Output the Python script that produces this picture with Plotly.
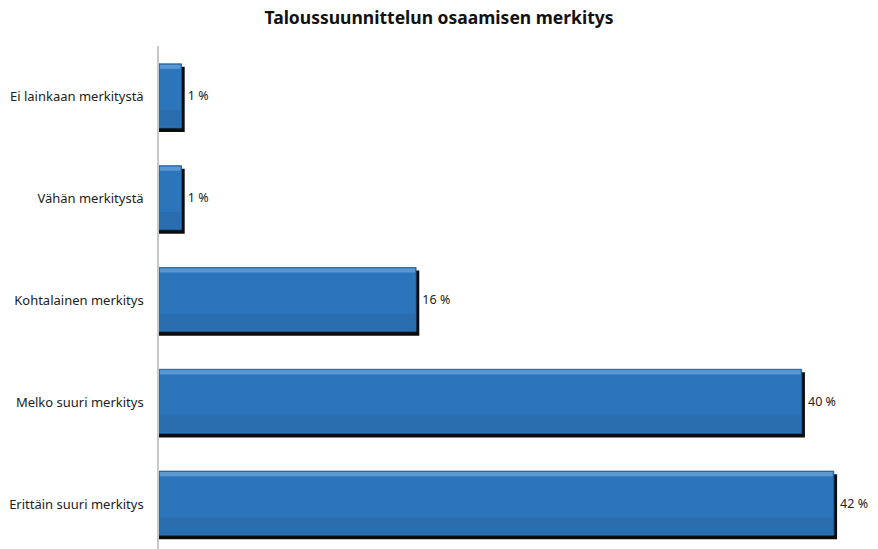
import plotly.graph_objects as go

title = "Taloussuunnittelun osaamisen merkitys"
categories = ["Ei lainkaan merkitystä", "Vähän merkitystä", "Kohtalainen merkitys",
              "Melko suuri merkitys", "Erittäin suuri merkitys"]
values = [1.4, 1.4, 16, 40, 42]
labels = ["1 %", "1 %", "16 %", "40 %", "42 %"]

fig = go.Figure()
# shadow
fig.add_trace(go.Bar(
    y=categories, x=[v + 0.2 for v in values], orientation="h",
    width=0.64, offset=-0.295, marker=dict(color="#0d0d0d", line=dict(width=0)),
    hoverinfo="skip", showlegend=False))
# main bar
fig.add_trace(go.Bar(
    y=categories, x=values, orientation="h",
    width=0.63, offset=-0.325,
    marker=dict(color="#2c75bb", line=dict(color="#1f5a92", width=0.8)),
    text=labels, texttemplate=" %{text}", textposition="outside", cliponaxis=False,
    textfont=dict(family="Noto Sans", size=12.5, color="#222222"),
    showlegend=False))
# highlight
fig.add_trace(go.Bar(
    y=categories, x=[v - 0.12 for v in values], orientation="h",
    width=0.04, offset=-0.315, base=0.05,
    marker=dict(color="#5a98d3", line=dict(width=0)),
    hoverinfo="skip", showlegend=False))
# bottom darker band
fig.add_trace(go.Bar(
    y=categories, x=[v - 0.12 for v in values], orientation="h",
    width=0.16, offset=0.13, base=0.05,
    marker=dict(color="#296daf", line=dict(width=0)),
    hoverinfo="skip", showlegend=False))

fig.update_layout(
    barmode="overlay",
    width=878, height=549,
    margin=dict(l=159, r=12, t=46, b=0, autoexpand=False),
    paper_bgcolor="white", plot_bgcolor="white",
    title=dict(text="<b>" + title + "</b>", x=0.5, xanchor="center",
               yref="container", y=0.967, yanchor="middle",
               font=dict(family="Noto Sans", size=17.5, color="#111111")),
    font=dict(family="Noto Sans", size=13, color="#222222"),
    xaxis=dict(range=[0, 44], visible=False, fixedrange=True, automargin=False),
    yaxis=dict(categoryorder="array", categoryarray=categories, automargin=False,
               range=[4.44, -0.5], showline=True, linecolor="#c8c8c8", linewidth=1.5,
               showgrid=False, zeroline=False, ticks="", ticklabelstandoff=11,
               tickfont=dict(family="Noto Sans", size=13, color="#222222")),
)
fig.write_html("out.html", config={"displayModeBar": False},
               post_script="document.body.style.margin='0';")
